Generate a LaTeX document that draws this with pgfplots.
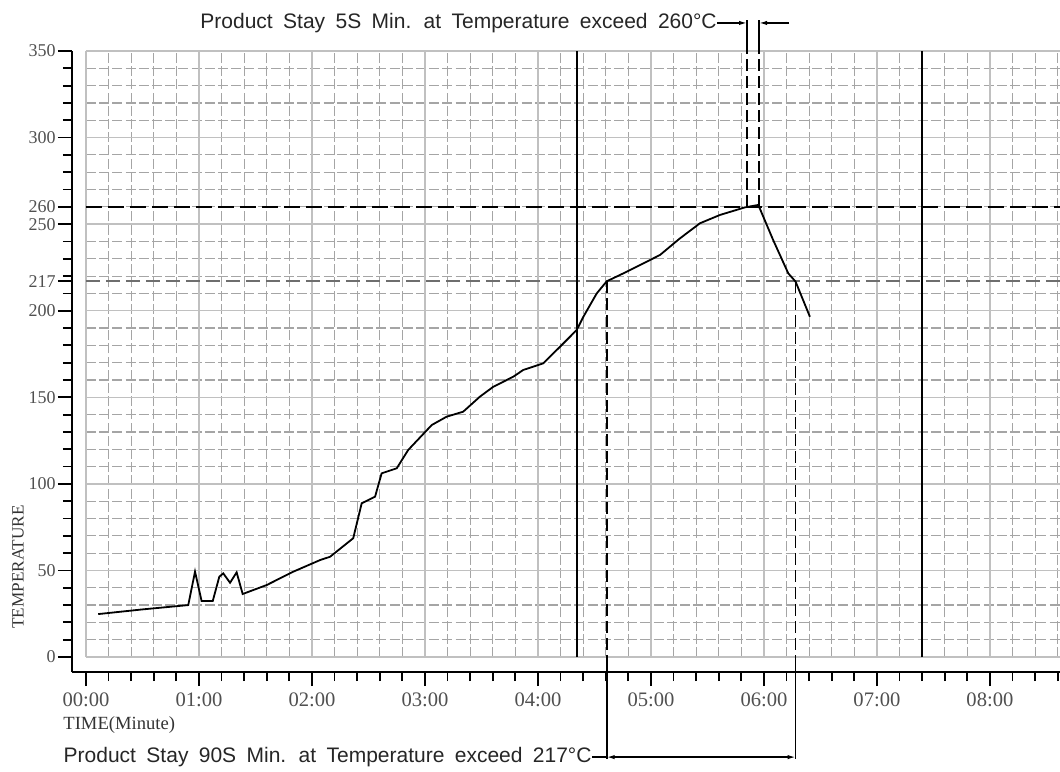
\documentclass[border=0pt]{standalone}
\usepackage{fontspec}
\setmainfont{Liberation Serif}
\newfontfamily\annfont{Liberation Sans}
\usepackage{pgfplots}
\pgfplotsset{compat=1.18}
\usetikzlibrary{arrows.meta}
\definecolor{gridsolid}{RGB}{192,192,192}
\definecolor{griddash}{RGB}{165,165,165}
\definecolor{ticklab}{RGB}{80,80,80}
\definecolor{line217}{RGB}{110,110,110}

\begin{document}
\begin{tikzpicture}
\begin{axis}[
  scale only axis, width=494pt, height=310.5pt,
  xmin=-7.43, xmax=517.2, ymin=-8.66, ymax=350,
  axis lines=left, axis line style={-, line width=1pt, black},
  clip=false,
  xtick={0,60,...,480},
  xticklabels={00:00,01:00,02:00,03:00,04:00,05:00,06:00,07:00,08:00},
  minor xtick={12,24,...,516},
  ytick={0,50,...,350},
  minor ytick={10,20,...,340},
  extra y ticks={217,260},
  tick align=outside,
  major tick length=7pt, minor tick length=4.5pt,
  tick style={black, line width=0.9pt},
  x tick label style={font=\fontsize{10.3}{12}\selectfont, text=ticklab},
  y tick label style={font=\fontsize{9}{11}\selectfont, text=ticklab, inner xsep=1pt},
  /pgf/number format/assume math mode=true,
]
% grid
\pgfplotsinvokeforeach{12,24,...,516}{
  \draw[griddash, line width=0.6pt, dash pattern=on 5pt off 1.6pt] (axis cs:#1,0) -- (axis cs:#1,350);}
\pgfplotsinvokeforeach{10,20,...,340}{
  \draw[griddash, line width=0.6pt, dash pattern=on 5pt off 1.6pt] (axis cs:0,#1) -- (axis cs:517.2,#1);}
\pgfplotsinvokeforeach{0,60,...,480}{
  \draw[gridsolid, line width=0.7pt] (axis cs:#1,0) -- (axis cs:#1,350);}
\pgfplotsinvokeforeach{0,50,...,350}{
  \draw[gridsolid, line width=0.7pt] (axis cs:0,#1) -- (axis cs:517.2,#1);}
% reference lines
\draw[line217, line width=0.8pt, dash pattern=on 7pt off 3pt] (axis cs:0,217) -- (axis cs:517.2,217);
\draw[black, line width=0.85pt, dash pattern=on 8pt off 3pt] (axis cs:0,260) -- (axis cs:517.2,260);
\draw[black, line width=0.85pt] (axis cs:260.6,0) -- (axis cs:260.6,350);
\draw[black, line width=0.85pt] (axis cs:444,0) -- (axis cs:444,350);
% 217 window
\draw[black, line width=0.85pt, dash pattern=on 6pt off 2.5pt] (axis cs:276.5,217) -- (axis cs:276.5,0);
\draw[black, line width=0.85pt, dash pattern=on 6pt off 2.5pt] (axis cs:376.8,217) -- (axis cs:376.8,0);
\draw[black, line width=0.85pt] (axis cs:276.5,0) -- (axis cs:276.5,-58.9);
\draw[black, line width=0.85pt] (axis cs:376.8,0) -- (axis cs:376.8,-58.9);
\draw[black, line width=0.7pt, {Latex[length=4pt,width=2.2pt]}-{Latex[length=4pt,width=2.2pt]}] (axis cs:276.5,-57.8) -- (axis cs:376.8,-57.8);
\node[anchor=east, inner sep=0pt, text=black!85] (b) at (axis cs:268.7,-57.8)
  {\annfont\fontsize{10.5}{12}\selectfont\spaceskip=5.2pt Product Stay 90S Min. at Temperature exceed 217°C};
\draw[black, line width=0.7pt] (axis cs:268.7,-57.8) -- (axis cs:276.5,-57.8);
% 260 window
\draw[black, line width=0.85pt, dash pattern=on 6pt off 2.5pt] (axis cs:351,260) -- (axis cs:351,350);
\draw[black, line width=0.85pt, dash pattern=on 6pt off 2.5pt] (axis cs:357.4,260) -- (axis cs:357.4,350);
\draw[black, line width=0.85pt] (axis cs:351,350) -- (axis cs:351,367.9);
\draw[black, line width=0.85pt] (axis cs:357.4,350) -- (axis cs:357.4,367.9);
\node[anchor=east, inner sep=0pt, text=black!85] at (axis cs:335.1,366.2)
  {\annfont\fontsize{10.5}{12}\selectfont\spaceskip=5.2pt Product Stay 5S Min. at Temperature exceed 260°C};
\draw[black, line width=0.7pt, -{Latex[length=4pt,width=2.2pt]}] (axis cs:335.1,366.2) -- (axis cs:351,366.2);
\draw[black, line width=0.7pt, -{Latex[length=4pt,width=2.2pt]}] (axis cs:373.3,366.2) -- (axis cs:357.4,366.2);
% labels
\node[anchor=west, inner sep=0pt, text=black!80] at (axis cs:-12.2,-39.3) {\fontsize{9.3}{11}\selectfont TIME(Minute)};
\node[rotate=90, inner sep=0pt, text=black!80] at (axis cs:-36.1,52) {\fontsize{8.6}{10}\selectfont TEMPERATURE};
% profile
\addplot[black, line width=0.9pt] coordinates {
(6.5,24.8) (30,27.5) (54.3,30.0) (57.9,49.3) (61.4,32.3) (67.3,32.3) (70.8,46.4)
(72.9,48.3) (76.5,42.9) (80.0,48.9) (83.2,36.4) (96.0,41.6) (110.1,49.3)
(124.3,56.0) (129.6,57.9) (141.9,68.6) (146.4,88.8) (153.5,92.6) (157.0,106.1)
(165.0,109.0) (171.1,119.6) (183.6,134.0) (191.5,138.8) (200.3,141.7)
(209.2,150.4) (216.3,156.1) (226.9,161.9) (232.2,165.8) (242.8,169.6)
(251.7,179.2) (260.6,188.9) (264.1,196.5) (271.2,210.0) (276.5,217.0)
(287.1,222.5) (304.8,232.2) (315.4,241.8) (326.0,250.5) (336.6,255.3)
(349.9,259.7) (357.0,261.1) (364.9,240.8) (372.9,221.6) (376.8,216.8) (384.4,196.5)
};
\coordinate (bbll) at (axis cs:-45.66,-65.84);
\coordinate (bbur) at (axis cs:517.2,379.46);
\end{axis}
\pgfresetboundingbox
\path[use as bounding box] (bbll) rectangle (bbur);
\end{tikzpicture}
\end{document}
